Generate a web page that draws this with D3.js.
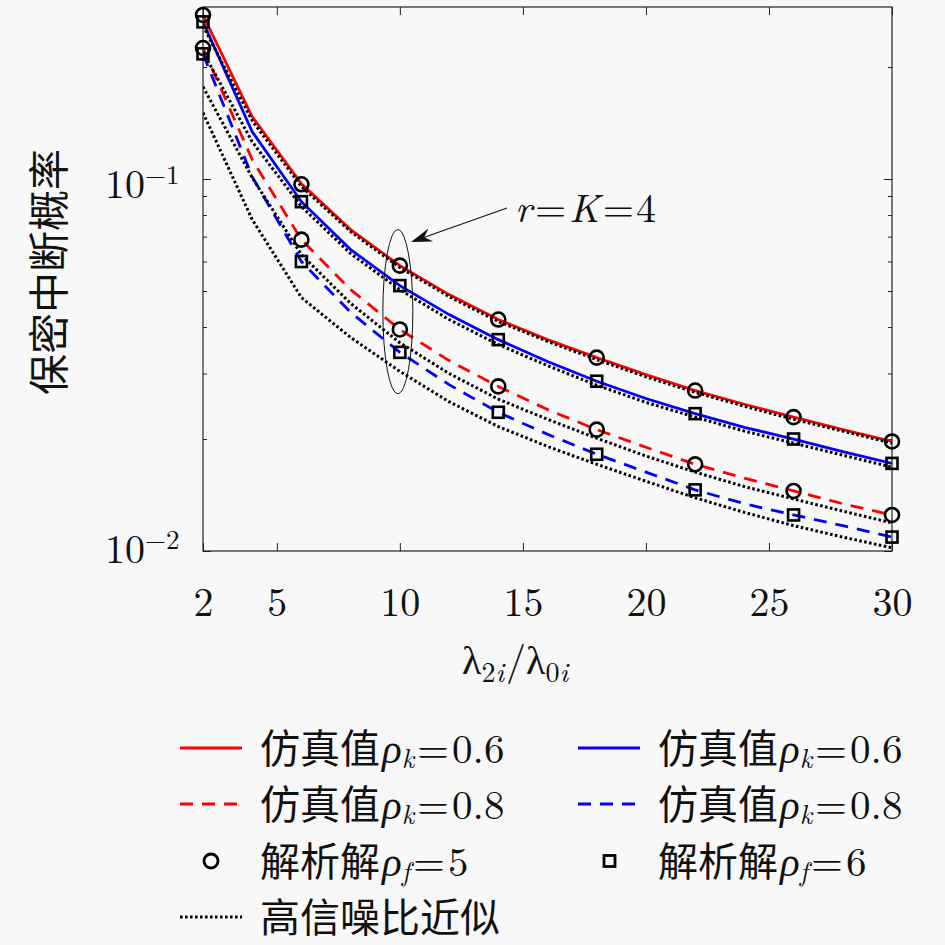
<!DOCTYPE html>
<html>
<head>
<meta charset="utf-8">
<script src="https://cdn.jsdelivr.net/npm/d3@7"></script>
<style>
  body { margin: 0; background: #f8f8f8; }
</style>
</head>
<body>
<div id="chart"></div>
<script>
var width = 945;
var height = 945;

// x values of the simulated / approximated curves and of the analytic markers
var xSim = [2, 4, 6, 8, 10, 12, 14, 16, 18, 20, 22, 24, 26, 28, 30];
var xMark = [2, 6, 10, 14, 18, 22, 26, 30];

// simulation, rho_f = 5 (red) and rho_f = 6 (blue)
var simRed06  = [0.276, 0.147, 0.0971, 0.0731, 0.0585, 0.0489, 0.0419, 0.0370, 0.0331, 0.0298, 0.0270, 0.0248, 0.0229, 0.0212, 0.0197];
var simBlue06 = [0.2645, 0.134, 0.0869, 0.0646, 0.0517, 0.0432, 0.0370, 0.0323, 0.0286, 0.0257, 0.0234, 0.0215, 0.0200, 0.0185, 0.0172];
var simRed08  = [0.225, 0.1127, 0.0687, 0.0504, 0.0394, 0.0325, 0.0277, 0.0240, 0.0212, 0.0190, 0.0171, 0.0157, 0.0145, 0.0134, 0.0125];
var simBlue08 = [0.217, 0.1014, 0.0600, 0.0438, 0.0342, 0.0280, 0.0236, 0.0206, 0.0182, 0.0163, 0.0146, 0.0134, 0.0125, 0.0117, 0.0109];

// high SNR approximations
var apxRed06  = [0.258, 0.1434, 0.0954, 0.0722, 0.0578, 0.0483, 0.0414, 0.0366, 0.0327, 0.0294, 0.0267, 0.0245, 0.0226, 0.0210, 0.0195];
var apxBlue06 = [0.2197, 0.1259, 0.0843, 0.0630, 0.0504, 0.0419, 0.0359, 0.0315, 0.0279, 0.0251, 0.0229, 0.0210, 0.0195, 0.0181, 0.0168];
var apxRed08  = [0.177, 0.1008, 0.0626, 0.0463, 0.0363, 0.0300, 0.0256, 0.0226, 0.0201, 0.0180, 0.0163, 0.0149, 0.0138, 0.0128, 0.0119];
var apxBlue08 = [0.1507, 0.0778, 0.0480, 0.0375, 0.0304, 0.0252, 0.0216, 0.0191, 0.0171, 0.0154, 0.0139, 0.0127, 0.0117, 0.0109, 0.0102];

// analytic solutions
var anaCircle06 = [0.276, 0.0968, 0.0585, 0.0419, 0.0331, 0.0270, 0.0229, 0.0197];
var anaCircle08 = [0.225, 0.0687, 0.0394, 0.0277, 0.0212, 0.0171, 0.0145, 0.0125];
var anaSquare06 = [0.2645, 0.0869, 0.0517, 0.0370, 0.0286, 0.0234, 0.0200, 0.0172];
var anaSquare08 = [0.217, 0.0600, 0.0342, 0.0236, 0.0182, 0.0146, 0.0125, 0.0109];

var xTicks = [2, 5, 10, 15, 20, 25, 30];
var yMajor = [0.01, 0.1];
var yMinor = [0.02, 0.03, 0.04, 0.05, 0.06, 0.07, 0.08, 0.09, 0.2];
var yTickExp = ["\u22122", "\u22121"];

var mathFont = "Latin Modern Roman";
var cjkFont = "Noto Sans CJK SC";

var svg = d3.select("#chart")
    .append("svg")
    .attr("width", width)
    .attr("height", height)
    .style("background", "#f8f8f8");

var xScale = d3.scaleLinear().domain([2, 30]).range([203, 892]);
var yScale = d3.scaleLog().domain([0.01, 0.29]).range([551, 7]);

svg.append("clipPath").attr("id", "plotclip")
    .append("rect")
    .attr("x", 203).attr("y", 7).attr("width", 689).attr("height", 544);

function styleAxis(g) {
    g.select(".domain").remove();
    g.selectAll("line").attr("stroke", "#222").attr("stroke-width", 1);
    g.selectAll("text")
        .style("font-family", mathFont)
        .style("font-size", "40px")
        .attr("fill", "#111");
}

// axes with inward ticks
svg.append("g")
    .attr("transform", "translate(0,551)")
    .call(d3.axisBottom(xScale).tickValues(xTicks).tickSize(-8).tickPadding(37).tickFormat(d3.format("d")))
    .call(styleAxis);

svg.append("g")
    .attr("transform", "translate(0,7)")
    .call(d3.axisTop(xScale).tickValues(xTicks).tickSize(-8).tickFormat(""))
    .call(styleAxis);

svg.append("g")
    .attr("transform", "translate(203,0)")
    .call(d3.axisLeft(yScale).tickValues(yMajor).tickSize(-8).tickFormat(""))
    .call(styleAxis);
svg.append("g")
    .attr("transform", "translate(203,0)")
    .call(d3.axisLeft(yScale).tickValues(yMinor).tickSize(-4).tickFormat(""))
    .call(styleAxis);
svg.append("g")
    .attr("transform", "translate(892,0)")
    .call(d3.axisRight(yScale).tickValues(yMajor).tickSize(-8).tickFormat(""))
    .call(styleAxis);
svg.append("g")
    .attr("transform", "translate(892,0)")
    .call(d3.axisRight(yScale).tickValues(yMinor).tickSize(-4).tickFormat(""))
    .call(styleAxis);

// y tick labels 10^-k
yMajor.forEach(function(v, i) {
    var t = svg.append("text")
        .attr("x", 105)
        .attr("y", yScale(v) + (i == 0 ? 12 : 19))
        .style("font-family", mathFont)
        .attr("fill", "#111");
    t.append("tspan").style("font-size", "40px").text("10");
    t.append("tspan").style("font-size", "27px").attr("dy", -14).text(yTickExp[i]);
});

// frame
svg.append("rect")
    .attr("x", 203).attr("y", 7).attr("width", 689).attr("height", 544)
    .attr("fill", "none").attr("stroke", "#222").attr("stroke-width", 1.2);

var plot = svg.append("g").attr("clip-path", "url(#plotclip)");

var line = d3.line()
    .x(function(d) { return xScale(d[0]); })
    .y(function(d) { return yScale(d[1]); });

function pairs(xs, ys) {
    return xs.map(function(xv, i) { return [xv, ys[i]]; });
}

var dashPat = "13,9";
var dotPat = "2.6,2.4";

var simSeries = [
    { vals: simRed06, color: "#ff0000", dash: null },
    { vals: simBlue06, color: "#0000ff", dash: null },
    { vals: simRed08, color: "#ff0000", dash: dashPat },
    { vals: simBlue08, color: "#0000ff", dash: dashPat }
];

simSeries.forEach(function(s) {
    plot.append("path")
        .datum(pairs(xSim, s.vals))
        .attr("d", line)
        .attr("fill", "none")
        .attr("stroke", s.color)
        .attr("stroke-width", 2.8)
        .attr("stroke-dasharray", s.dash);
});

[apxRed06, apxBlue06, apxRed08, apxBlue08].forEach(function(vals) {
    plot.append("path")
        .datum(pairs(xSim, vals))
        .attr("d", line)
        .attr("fill", "none")
        .attr("stroke", "#000")
        .attr("stroke-width", 3)
        .attr("stroke-dasharray", dotPat);
});

// analytic markers
[anaCircle06, anaCircle08].forEach(function(vals) {
    svg.selectAll(null)
        .data(pairs(xMark, vals))
        .enter()
        .append("circle")
        .attr("cx", function(d) { return xScale(d[0]); })
        .attr("cy", function(d) { return yScale(d[1]); })
        .attr("r", 7)
        .attr("fill", "none")
        .attr("stroke", "#000")
        .attr("stroke-width", 2.6);
});

[anaSquare06, anaSquare08].forEach(function(vals) {
    svg.selectAll(null)
        .data(pairs(xMark, vals))
        .enter()
        .append("rect")
        .attr("x", function(d) { return xScale(d[0]) - 5.5; })
        .attr("y", function(d) { return yScale(d[1]) - 5.5; })
        .attr("width", 11)
        .attr("height", 11)
        .attr("fill", "none")
        .attr("stroke", "#000")
        .attr("stroke-width", 2.6);
});

// annotation: ellipse, arrow, r=K=4
svg.append("ellipse")
    .attr("cx", xScale(10) - 2)
    .attr("cy", yScale(0.044))
    .attr("rx", 15)
    .attr("ry", 82)
    .attr("fill", "none")
    .attr("stroke", "#111")
    .attr("stroke-width", 1);

var a0 = [507, 208], a1 = [411, 242];
var adx = a1[0] - a0[0], ady = a1[1] - a0[1];
var alen = Math.sqrt(adx * adx + ady * ady);
var ux = adx / alen, uy = ady / alen;
var nx = -uy, ny = ux;
svg.append("line")
    .attr("x1", a0[0]).attr("y1", a0[1])
    .attr("x2", a1[0] - 12 * ux).attr("y2", a1[1] - 12 * uy)
    .attr("stroke", "#111").attr("stroke-width", 1.2);
var head = [
    [a1[0], a1[1]],
    [a1[0] - 21 * ux + 7 * nx, a1[1] - 21 * uy + 7 * ny],
    [a1[0] - 14 * ux, a1[1] - 14 * uy],
    [a1[0] - 21 * ux - 7 * nx, a1[1] - 21 * uy - 7 * ny]
];
svg.append("polygon")
    .attr("points", head.map(function(p) { return p.join(","); }).join(" "))
    .attr("fill", "#111");

var ann = svg.append("text")
    .attr("x", 515).attr("y", 222)
    .style("font-family", mathFont).style("font-size", "40px")
    .attr("fill", "#111");
ann.append("tspan").style("font-style", "italic").text("r");
ann.append("tspan").attr("dx", 3).text("=");
ann.append("tspan").attr("dx", 3).style("font-style", "italic").text("K");
ann.append("tspan").attr("dx", 3).text("=");
ann.append("tspan").attr("dx", 2).text("4");

// axis titles
var xl = svg.append("text")
    .attr("x", 462).attr("y", 674)
    .style("font-family", mathFont).style("font-size", "40px")
    .attr("fill", "#111");
xl.append("tspan").text("\u03bb");
xl.append("tspan").style("font-size", "28px").attr("dy", 8).text("2");
xl.append("tspan").style("font-size", "28px").style("font-style", "italic").text("i");
xl.append("tspan").attr("dy", -8).attr("dx", 2).text("/");
xl.append("tspan").text("\u03bb");
xl.append("tspan").style("font-size", "28px").attr("dy", 8).text("0");
xl.append("tspan").style("font-size", "28px").style("font-style", "italic").text("i");

svg.append("text")
    .attr("transform", "translate(64,272) rotate(-90)")
    .attr("text-anchor", "middle")
    .style("font-family", cjkFont)
    .style("font-size", "41px")
    .attr("fill", "#111")
    .text("保密中断概率");

// legend
var legendRows = [748, 804, 861, 917];

function legendText(x, yc, cn, sym, sub, val) {
    var t = svg.append("text")
        .attr("x", x).attr("y", yc + 15)
        .attr("fill", "#111");
    t.append("tspan").style("font-family", cjkFont).style("font-size", "40px").text(cn);
    if (sym) {
        t.append("tspan").style("font-family", mathFont).style("font-size", "41px").style("font-style", "italic").attr("dx", 2).text(sym);
        t.append("tspan").style("font-family", mathFont).style("font-size", "27px").style("font-style", "italic").attr("dy", 5).text(sub);
        t.append("tspan").style("font-family", mathFont).style("font-size", "41px").attr("dy", -5).attr("dx", 3).text("=");
        t.append("tspan").style("font-family", mathFont).style("font-size", "41px").attr("dx", 3).text(val);
    }
}

function legendLine(x, yc, color, dash) {
    svg.append("line")
        .attr("x1", x).attr("x2", x + 62)
        .attr("y1", yc).attr("y2", yc)
        .attr("stroke", color).attr("stroke-width", 2.9)
        .attr("stroke-dasharray", dash);
}

legendLine(180, legendRows[0], "#ff0000", null);
legendText(260, legendRows[0], "仿真值", "\u03c1", "k", "0.6");
legendLine(578, legendRows[0], "#0000ff", null);
legendText(658, legendRows[0], "仿真值", "\u03c1", "k", "0.6");

legendLine(180, legendRows[1], "#ff0000", dashPat);
legendText(260, legendRows[1], "仿真值", "\u03c1", "k", "0.8");
legendLine(578, legendRows[1], "#0000ff", dashPat);
legendText(658, legendRows[1], "仿真值", "\u03c1", "k", "0.8");

svg.append("circle")
    .attr("cx", 211).attr("cy", legendRows[2]).attr("r", 7)
    .attr("fill", "none").attr("stroke", "#000").attr("stroke-width", 2.8);
legendText(260, legendRows[2], "解析解", "\u03c1", "f", "5");
svg.append("rect")
    .attr("x", 604).attr("y", legendRows[2] - 5.5).attr("width", 11).attr("height", 11)
    .attr("fill", "none").attr("stroke", "#000").attr("stroke-width", 2.8);
legendText(658, legendRows[2], "解析解", "\u03c1", "f", "6");

legendLine(180, legendRows[3], "#000", dotPat);
legendText(260, legendRows[3], "高信噪比近似", null);
</script>
</body>
</html>
